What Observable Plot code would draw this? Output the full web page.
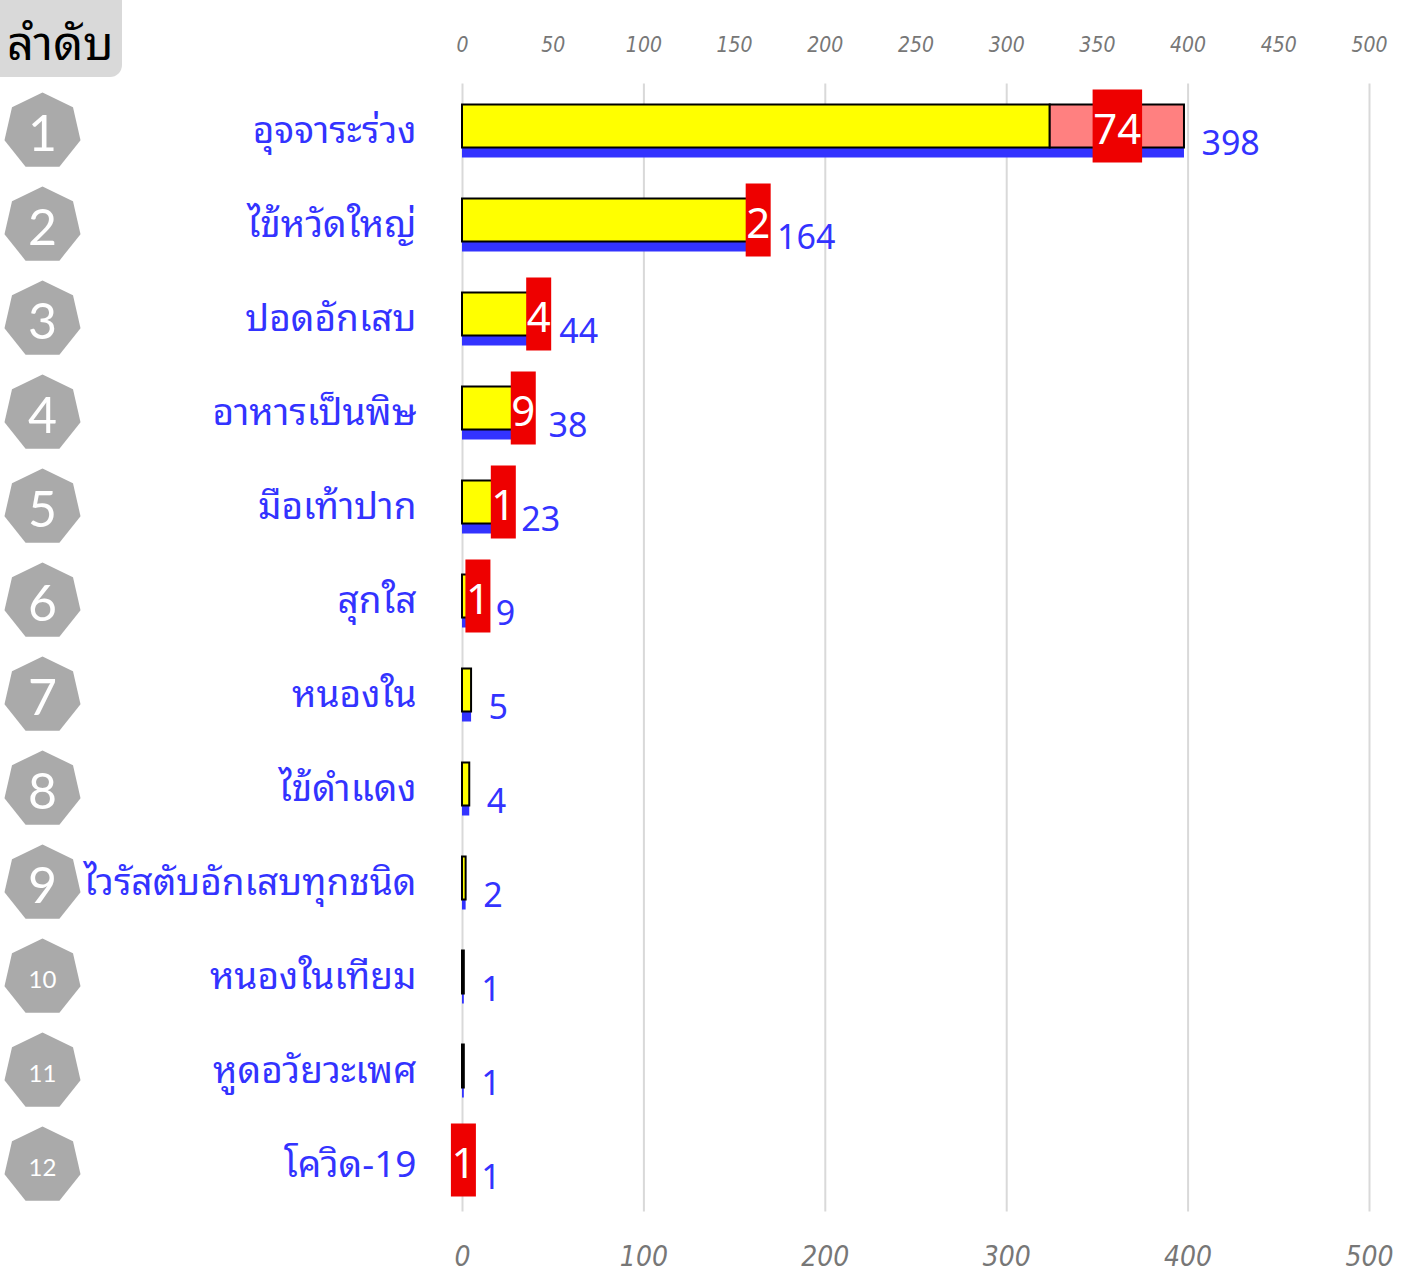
<!DOCTYPE html>
<html>
<head>
<meta charset="utf-8">
<script src="https://cdn.jsdelivr.net/npm/d3@7"></script>
<script src="https://cdn.jsdelivr.net/npm/@observablehq/plot@0.6"></script>
<style>
  html, body { margin: 0; padding: 0; background: #fff; }
  #wrap { position: relative; width: 1403px; height: 1273px; }
  #hdr { position: absolute; left: 0; top: 0; width: 122px; height: 77px; background: #d9d9d9;
         border-radius: 0 0 12px 0; font-family: 'Noto Sans Thai Looped', Loma, Garuda, 'Noto Sans Thai', 'Noto Sans', sans-serif;
         font-size: 47px; color: #000; line-height: 78px; text-indent: 7px; box-sizing: border-box; white-space: nowrap; }
</style>
</head>
<body>
<div id="wrap"><div id="hdr">ลำดับ</div></div>
<script>
const categories = ["อุจจาระร่วง","ไข้หวัดใหญ่","ปอดอักเสบ","อาหารเป็นพิษ","มือเท้าปาก","สุกใส","หนองใน","ไข้ดำแดง","ไวรัสตับอักเสบทุกชนิด","หนองในเทียม","หูดอวัยวะเพศ","โควิด-19"];
const totals = [398,164,44,38,23,9,5,4,2,1,1,1];
const added = [74,2,4,9,1,1,0,0,0,0,0,1];
const ranks = [1,2,3,4,5,6,7,8,9,10,11,12];
const topTicks = [0,50,100,150,200,250,300,350,400,450,500];
const bottomTicks = [0,100,200,300,400,500];

const rows = categories.map((c, i) => ({cat: c, total: totals[i], added: added[i], base: totals[i] - added[i], rank: ranks[i]}));

const thai = "'Noto Sans Thai Looped', Loma, Garuda, 'Noto Sans Thai', 'Noto Sans', sans-serif";
const tickFont = "'Liberation Sans Narrow', 'DejaVu Sans Condensed', sans-serif";
const heptagon = {
  draw(context, size) {
    const r = Math.sqrt(size / Math.PI);
    for (let i = 0; i < 7; i++) {
      const a = -Math.PI / 2 + i * 2 * Math.PI / 7;
      const px = r * Math.cos(a), py = r * Math.sin(a);
      if (i === 0) context.moveTo(px, py); else context.lineTo(px, py);
    }
    context.closePath();
  }
};

const chart = Plot.plot({
  width: 1403,
  height: 1273,
  marginLeft: 462,
  marginRight: 34,
  marginTop: 83.5,
  marginBottom: 61.5,
  x: {domain: [0, 500], axis: null},
  y: {type: "band", domain: categories, padding: 0, axis: null},
  style: {background: "transparent", overflow: "visible"},
  marks: [
    Plot.ruleX(bottomTicks, {stroke: "#d9d9d9", strokeWidth: 2}),
    Plot.text(topTicks, {x: d => d, frameAnchor: "top", dy: -47, text: d => String(d), fontSize: 21, fontStyle: "italic", fill: "#777", fontFamily: tickFont}),
    Plot.text(bottomTicks, {x: d => d, frameAnchor: "bottom", dy: 54, text: d => String(d), fontSize: 28, fontStyle: "italic", fill: "#777", fontFamily: tickFont}),
    Plot.barX(rows, {y: "cat", x1: 0, x2: "total", fill: "#3333ff", insetTop: 63.5, insetBottom: 20.5}),
    Plot.barX(rows.filter(d => d.base > 0), {y: "cat", x1: 0, x2: "base", fill: "#ffff00", stroke: "#000", strokeWidth: 2, insetTop: 20.5, insetBottom: 30.5}),
    Plot.barX(rows.filter(d => d.added > 0), {y: "cat", x1: "base", x2: "total", fill: "#ff8080", stroke: "#000", strokeWidth: 2, insetTop: 20.5, insetBottom: 30.5}),
    Plot.tickX(rows.filter(d => d.added > 0), {y: "cat", x: d => d.total - d.added / 2, stroke: "#ee0000", strokeWidth: d => 24.5 * String(d.added).length + 0.5, insetTop: 5.5, insetBottom: 15.5}),
    Plot.text(rows.filter(d => d.added > 0), {y: "cat", x: d => d.total - d.added / 2, text: d => String(d.added), fill: "#fff", fontSize: 42, fontFamily: thai, dy: -1}),
    Plot.text(rows, {y: "cat", x: "total", text: d => String(d.total), dx: 17, dy: 13, textAnchor: "start", fill: "#3333ff", fontSize: 34, fontFamily: thai}),
    Plot.dot(rows, {y: "cat", x: 0, dx: -420, r: 39, symbol: heptagon, fill: "#aaaaaa", stroke: "none"}),
    Plot.text(rows, {y: "cat", x: 0, dx: -420, dy: 3, text: d => String(d.rank), fill: "#fff", fontSize: d => d.rank < 10 ? 50 : 24, fontFamily: "Lato, sans-serif"}),
    Plot.text(rows, {y: "cat", x: 0, text: "cat", dx: -46, textAnchor: "end", fill: "#3333ff", fontSize: 37, fontFamily: thai})
  ]
});
document.getElementById("wrap").appendChild(chart);
chart.style.position = "absolute";
chart.style.left = "0";
chart.style.top = "0";
document.getElementById("wrap").appendChild(document.getElementById("hdr"));
</script>
</body>
</html>
